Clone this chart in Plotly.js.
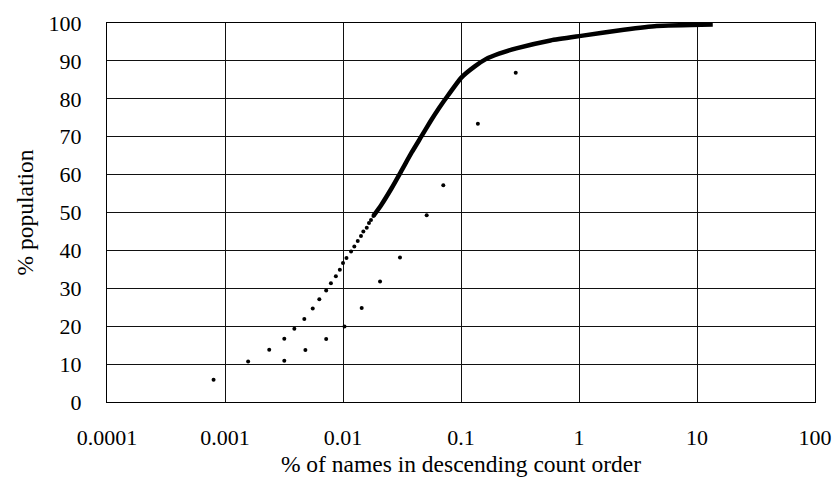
<!DOCTYPE html>
<html>
<head>
<meta charset="utf-8">
<script src="https://cdn.plot.ly/plotly-3.0.1.min.js"></script>
<style>html,body{margin:0;padding:0;background:#fff;}#chart{width:839px;height:482px;}</style>
</head>
<body>
<div id="chart"></div>
<script>
// Main ranked series: individual points (lower part)
const rankDotsX = [0.0008, 0.00157, 0.00237, 0.00318, 0.00387, 0.0047, 0.00554, 0.0063, 0.0072, 0.0079, 0.0087, 0.0094, 0.0100, 0.0107, 0.0117, 0.01247, 0.01333, 0.0142, 0.01487, 0.0159, 0.0166, 0.01726, 0.0181];
const rankDotsY = [5.9, 10.7, 13.8, 16.7, 19.3, 21.9, 24.7, 27.1, 29.4, 31.3, 33.2, 34.9, 36.7, 38.0, 39.7, 41.0, 42.5, 43.8, 45.0, 46.0, 47.2, 48.0, 49.1];
// Main ranked series: dense part drawn as a thick curve
const rankLineX = [0.0181, 0.0211, 0.0258, 0.0314, 0.0383, 0.046, 0.055, 0.065, 0.078, 0.1006, 0.13, 0.161, 0.21, 0.294, 0.574, 1.04, 2.4, 4.55, 13.6];
const rankLineY = [49.1, 52.0, 56.4, 61.1, 65.9, 70.0, 74.0, 77.5, 81.0, 85.6, 88.5, 90.4, 91.9, 93.3, 95.4, 96.6, 98.2, 99.2, 99.6];
// Second sparse series
const sparseX = [0.00318, 0.0048, 0.0072, 0.0103, 0.0144, 0.0206, 0.0304, 0.0512, 0.0708, 0.139, 0.291];
const sparseY = [10.9, 13.7, 16.6, 19.9, 24.8, 31.8, 38.1, 49.3, 57.2, 73.4, 86.9];

const xTickVals = [0.0001, 0.001, 0.01, 0.1, 1, 10, 100];
const xTickText = ['0.0001', '0.001', '0.01', '0.1', '1', '10', '100'];

const font = 'Liberation Serif, Times New Roman, serif';

const traces = [
  {x: rankLineX, y: rankLineY, type: 'scatter', mode: 'lines',
   line: {color: '#000', width: 4.5, shape: 'spline', smoothing: 0.5}},
  {x: rankDotsX, y: rankDotsY, type: 'scatter', mode: 'markers',
   marker: {color: '#000', size: 4}},
  {x: sparseX, y: sparseY, type: 'scatter', mode: 'markers',
   marker: {color: '#000', size: 4}}
];

const layout = {
  width: 839, height: 482,
  margin: {l: 107, r: 24, t: 23, b: 80},
  paper_bgcolor: '#fff', plot_bgcolor: '#fff',
  showlegend: false,
  font: {family: font, color: '#000', size: 22},
  xaxis: {
    type: 'log', range: [-4, 2],
    tickvals: xTickVals, ticktext: xTickText,
    showgrid: true, gridcolor: '#111', gridwidth: 1,
    showline: true, linecolor: '#000', linewidth: 1, mirror: true,
    ticks: 'outside', ticklen: 16, tickcolor: 'rgba(0,0,0,0)',
    tickfont: {family: font, size: 22, color: '#000'},
    zeroline: false,
    title: {text: '% of names in descending count order', font: {family: font, size: 23.5, color: '#000'}, standoff: 6}
  },
  yaxis: {
    range: [0, 100], dtick: 10, tick0: 0,
    showgrid: true, gridcolor: '#111', gridwidth: 1,
    showline: true, linecolor: '#000', linewidth: 1, mirror: true,
    ticks: 'outside', ticklen: 20, tickcolor: 'rgba(0,0,0,0)',
    tickfont: {family: font, size: 22, color: '#000'},
    zeroline: false,
    title: {text: '% population', font: {family: font, size: 23.5, color: '#000'}, standoff: 8}
  }
};

Plotly.newPlot('chart', traces, layout, {staticPlot: true, displayModeBar: false});
</script>
</body>
</html>
